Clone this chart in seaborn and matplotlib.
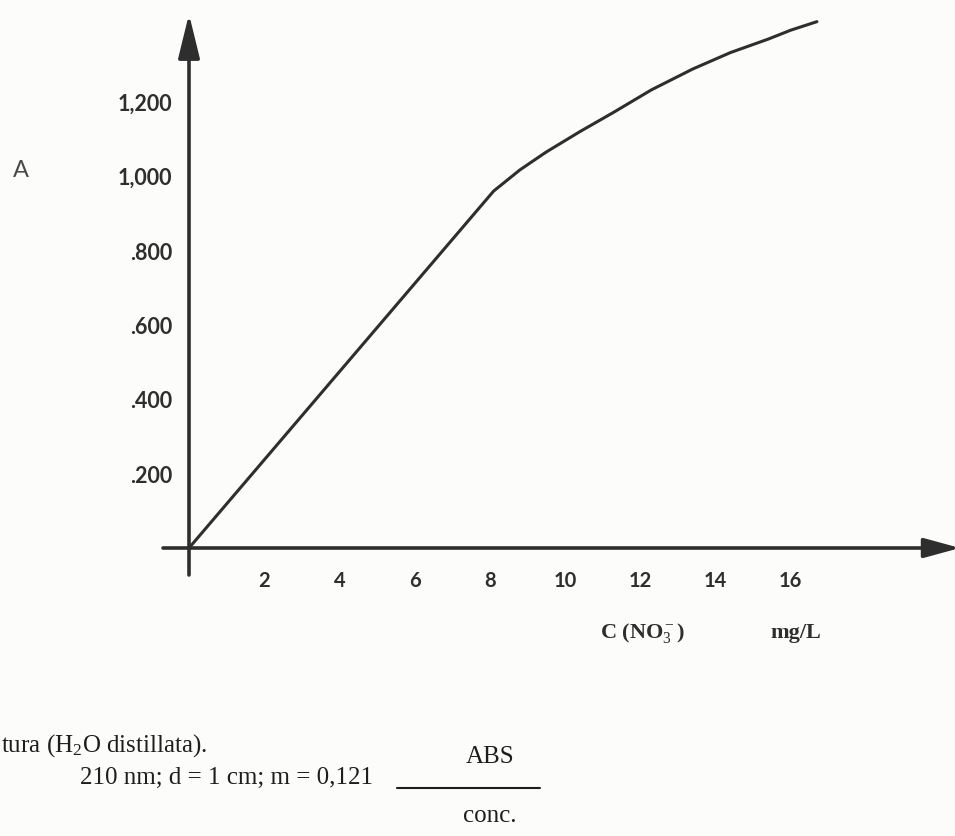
import matplotlib
matplotlib.use("Agg")
import matplotlib.pyplot as plt
from matplotlib.lines import Line2D
import seaborn as sns
import pandas as pd

# ---- data ----
conc = [0.0, 8.1, 8.8, 9.5, 10.4, 11.3, 12.3, 13.4, 14.4, 15.4, 16.0, 16.7]   # C (NO3-) mg/L
absorbance = [0.0, 0.958, 1.015, 1.063, 1.118, 1.170, 1.230, 1.286, 1.330, 1.366, 1.390, 1.413]  # A
x_ticks = [2, 4, 6, 8, 10, 12, 14, 16]
x_tick_labels = ["2", "4", "6", "8", "10", "12", "14", "16"]
y_ticks = [0.2, 0.4, 0.6, 0.8, 1.0, 1.2]
y_tick_labels = [".200", ".400", ".600", ".800", "1,000", "1,200"]

W, H = 955, 837
BG = "#fcfcfa"
INK = "#2e2e2e"

sns.set_style("white")
plt.rcParams["font.family"] = ["Lato", "DejaVu Sans"]
plt.rcParams["mathtext.fontset"] = "custom"
plt.rcParams["mathtext.rm"] = "Liberation Serif"
plt.rcParams["mathtext.it"] = "Liberation Serif:italic"
plt.rcParams["mathtext.bf"] = "Liberation Serif:bold"

fig = plt.figure(figsize=(W / 100, H / 100), dpi=100, facecolor=BG)
ax = fig.add_axes([0, 0, 1, 1])
ax.set_facecolor(BG)

# pixel geometry of the drawn frame
X0, SX = 189.0, 37.6      # px of x=0, px per mg/L
Y0, SY = 549.0, 372.5     # px of A=0, px per absorbance unit
ax.set_xlim(-X0 / SX, (W - X0) / SX)
ax.set_ylim((Y0 - H) / SY, Y0 / SY)

def px(xp, yp):
    return (xp - X0) / SX, (Y0 - yp) / SY

def fig_px(xp, yp):
    return xp / W, 1 - yp / H

# curve
df = pd.DataFrame({"conc": conc, "A": absorbance})
sns.lineplot(data=df, x="conc", y="A", sort=False, color=INK, linewidth=2.2,
             ax=ax, zorder=5)
ax.lines[-1].set_solid_joinstyle("round")

# axes with arrows
for s in ax.spines.values():
    s.set_visible(True)
    s.set_color("none")
ax.spines["left"].set_position(("data", 0))
ax.spines["bottom"].set_position(("data", 0))

x_start, _ = px(163, 550)
x_tip, _ = px(960, 550)
_, y_bottom = px(189, 576)
_, y_tip = px(189, 15)
ax.annotate("", xy=(x_tip, 0), xytext=(x_start, 0), annotation_clip=False,
            arrowprops=dict(arrowstyle="-|>,head_length=1.1,head_width=0.3",
                            lw=2.6, color=INK, mutation_scale=20, shrinkA=0, shrinkB=0),
            zorder=6)
ax.annotate("", xy=(0, y_tip), xytext=(0, y_bottom), annotation_clip=False,
            arrowprops=dict(arrowstyle="-|>,head_length=1.35,head_width=0.33",
                            lw=2.6, color=INK, mutation_scale=20, shrinkA=0, shrinkB=0),
            zorder=6)

ax.set_xticks(x_ticks)
ax.set_xticklabels(x_tick_labels)
ax.set_yticks(y_ticks)
ax.set_yticklabels(y_tick_labels)
ax.tick_params(axis="x", direction="out", length=10, width=2.0, color=INK,
               pad=6, labelsize=14.5, labelcolor=INK)
ax.tick_params(axis="y", direction="out", length=10, width=2.0, color=INK,
               pad=2, labelsize=15.5, labelcolor=INK)
for lab in ax.get_xticklabels() + ax.get_yticklabels():
    lab.set_fontweight("bold")
ax.set_xlabel("")
ax.set_ylabel("")

# axis titles
ax.text(*px(21, 170), "A", fontsize=17, color="#4a4a4a", ha="center", va="center")
ax.text(*px(600, 633), "C (NO$_3^-$)", family="Liberation Serif", fontsize=16,
        fontweight="bold", color=INK, ha="left", va="center")
ax.text(*px(770, 633), "mg/L", family="Liberation Serif", fontsize=16,
        fontweight="bold", color=INK, ha="left", va="center")

# caption text at the bottom
fig.text(*fig_px(1, 746), "tura (H$_2$O distillata).", family="Liberation Serif",
         fontsize=18, color="#1e1e1e", ha="left", va="center")
fig.text(*fig_px(80, 778), "210 nm; d = 1 cm; m = 0,121", family="Liberation Serif",
         fontsize=18, color="#1e1e1e", ha="left", va="center")
fig.text(*fig_px(490, 757), "ABS", family="Liberation Serif",
         fontsize=18, color="#1e1e1e", ha="center", va="center")
fig.text(*fig_px(490, 816), "conc.", family="Liberation Serif",
         fontsize=18, color="#1e1e1e", ha="center", va="center")
lx0, ly = fig_px(397, 789)
lx1, _ = fig_px(540, 789)
fig.add_artist(Line2D([lx0, lx1], [ly, ly], color="#1e1e1e", lw=1.5))

fig.savefig("out.png", dpi=100, facecolor=BG)
